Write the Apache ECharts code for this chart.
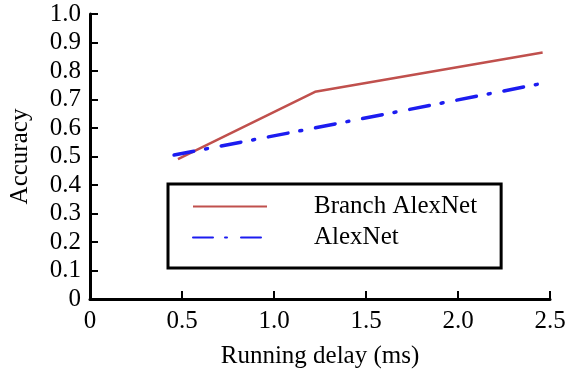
<!DOCTYPE html>
<html><head><meta charset="utf-8">
<script src="https://cdn.jsdelivr.net/npm/echarts@6/dist/echarts.min.js"></script>
<style>html,body{margin:0;padding:0;background:#fff}#c{width:570px;height:378px}</style>
</head><body><div id="c"></div>
<script>
const seriesNames = ['Branch AlexNet', 'AlexNet'];
const branchX = [0.478, 1.223, 2.46];
const branchY = [0.491, 0.727, 0.865];
const alexX = [0.457, 1.22, 2.47];
const alexY = [0.505, 0.60, 0.758];
const xTicks = ['0', '0.5', '1.0', '1.5', '2.0', '2.5'];
const yTicks = ['0', '0.1', '0.2', '0.3', '0.4', '0.5', '0.6', '0.7', '0.8', '0.9', '1.0'];

const font = 'Liberation Serif';
const fs = 25;
const chart = echarts.init(document.getElementById('c'));
chart.setOption({
  animation: false,
  backgroundColor: '#fff',
  grid: {left: 90, right: 20, top: 14, bottom: 79, containLabel: false, outerBoundsMode: 'none'},
  xAxis: {
    type: 'value', min: 0, max: 2.5, interval: 0.5,
    name: 'Running delay (ms)', nameLocation: 'middle', nameGap: 45,
    nameTextStyle: {fontFamily: font, fontSize: fs, color: '#000'},
    axisLine: {lineStyle: {color: '#000', width: 3}},
    axisTick: {inside: true, length: 8, lineStyle: {color: '#000', width: 2}},
    axisLabel: {fontFamily: font, fontSize: fs, color: '#000', margin: 10,
      formatter: (v) => xTicks[Math.round(v / 0.5)]},
    splitLine: {show: false}
  },
  yAxis: {
    type: 'value', min: 0, max: 1, interval: 0.1,
    name: 'Accuracy', nameLocation: 'middle', nameGap: 57, nameRotate: 90,
    nameTextStyle: {fontFamily: font, fontSize: fs, color: '#000'},
    axisLine: {show: true, lineStyle: {color: '#000', width: 3}},
    axisTick: {show: true, inside: true, length: 8, lineStyle: {color: '#000', width: 2}},
    axisLabel: {fontFamily: font, fontSize: fs, color: '#000', margin: 9,
      formatter: (v) => yTicks[Math.round(v * 10)]},
    splitLine: {show: false}
  },
  legend: {
    orient: 'vertical', left: 168, top: 184,
    padding: [10, 24, 18, 24],
    borderColor: '#000', borderWidth: 3,
    itemWidth: 74, itemHeight: 14, itemGap: 6,
    itemStyle: {color: 'transparent', borderColor: 'transparent', borderWidth: 0},
    textStyle: {fontFamily: font, fontSize: fs, color: '#000', padding: [0, 0, 0, 42]},
    data: seriesNames
  },
  series: [
    {name: seriesNames[0], type: 'line', symbol: 'none',
     data: branchX.map((x, i) => [x, branchY[i]]),
     lineStyle: {color: '#c0504d', width: 2.5}, itemStyle: {color: '#c0504d'}},
    {name: seriesNames[1], type: 'line', symbol: 'none',
     data: alexX.map((x, i) => [x, alexY[i]]),
     lineStyle: {color: '#1c1cf0', width: 3.5, type: [20, 12, 2, 14], cap: 'round'},
     itemStyle: {color: '#1c1cf0'}}
  ]
});
</script></body></html>
